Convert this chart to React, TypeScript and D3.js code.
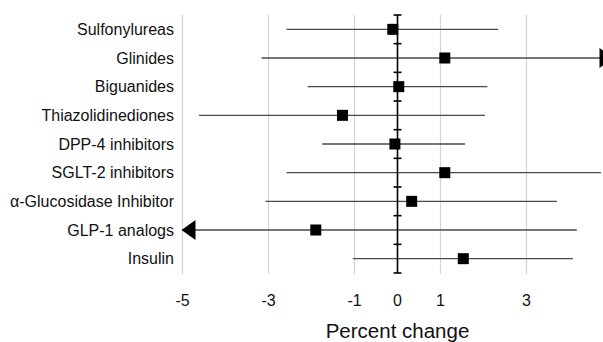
import React from 'react';
import * as d3 from 'd3';

const categories = [
  'Sulfonylureas',
  'Glinides',
  'Biguanides',
  'Thiazolidinediones',
  'DPP-4 inhibitors',
  'SGLT-2 inhibitors',
  'α-Glucosidase Inhibitor',
  'GLP-1 analogs',
  'Insulin',
];
const estimates = [-0.11, 1.1, 0.03, -1.28, -0.06, 1.1, 0.33, -1.9, 1.53];
const lowerCI = [-2.58, -3.16, -2.09, -4.62, -1.75, -2.58, -3.07, -5.6, -1.04];
const upperCI = [2.34, 5.8, 2.09, 2.03, 1.57, 4.73, 3.71, 4.17, 4.08];
const tickValues = [-5, -3, -1, 0, 1, 3];
const gridValues = [-5, -3, -1, 1, 3, 5];

const W = 603;
const H = 342;

const App = () => {
  const x = d3.scaleLinear().domain([-5, 5]).range([182.5, 612.5]);
  const y = d3.scaleBand().domain(categories).range([15, 273]).padding(0);
  const [xMin, xMax] = x.domain();
  const font = '"Liberation Sans", Arial, Helvetica, sans-serif';

  const rows = categories.map((c, i) => ({
    name: c,
    est: estimates[i],
    lo: lowerCI[i],
    hi: upperCI[i],
    cy: (y(c) ?? 0) + y.bandwidth() / 2,
  }));

  const bounds = [...categories.map((c) => y(c) ?? 0), y.range()[1]];

  return (
    <svg
      width={W}
      height={H}
      style={{ position: 'absolute', left: 0, top: 0, background: '#fff' }}
      fontFamily={font}
    >
      {/* grid */}
      {gridValues.map((v) => (
        <line key={v} x1={x(v)} x2={x(v)} y1={15} y2={274} stroke="#d4d4d4" strokeWidth={1.2} />
      ))}

      {/* error bars */}
      {rows.map((r) => {
        const lo = Math.max(r.lo, xMin);
        const hi = Math.min(r.hi, xMax);
        return (
          <g key={r.name}>
            <line x1={x(lo)} x2={x(hi)} y1={r.cy} y2={r.cy} stroke="#4a4a4a" strokeWidth={1.4} />
            {r.lo < xMin && (
              <path
                d={`M${x(xMin) - 1},${r.cy} L${x(xMin) + 13},${r.cy - 10} L${x(xMin) + 13},${r.cy + 10} Z`}
                fill="#000"
              />
            )}
            {r.hi > xMax && (
              <path
                d={`M${x(xMax) + 1},${r.cy} L${x(xMax) - 13},${r.cy - 10} L${x(xMax) - 13},${r.cy + 10} Z`}
                fill="#000"
              />
            )}
          </g>
        );
      })}

      {/* zero axis */}
      <line x1={x(0)} x2={x(0)} y1={15} y2={273} stroke="#000" strokeWidth={1.6} />
      {bounds.map((b, i) => (
        <line key={i} x1={x(0) - 4} x2={x(0) + 4} y1={b} y2={b} stroke="#000" strokeWidth={1.6} />
      ))}

      {/* points */}
      {rows.map((r) => (
        <rect key={r.name} x={x(r.est) - 5.5} y={r.cy - 5.5} width={11} height={11} fill="#000" />
      ))}

      {/* category labels */}
      {rows.map((r) => (
        <text key={r.name} x={174} y={r.cy + 5.5} textAnchor="end" fontSize={16} fill="#111">
          {r.name}
        </text>
      ))}

      {/* tick labels */}
      {tickValues.map((v) => (
        <text key={v} x={x(v)} y={306} textAnchor="middle" fontSize={16} fill="#111">
          {v}
        </text>
      ))}

      <text x={x(0)} y={338} textAnchor="middle" fontSize={20.5} fill="#111">
        Percent change
      </text>
    </svg>
  );
};

export default App;
